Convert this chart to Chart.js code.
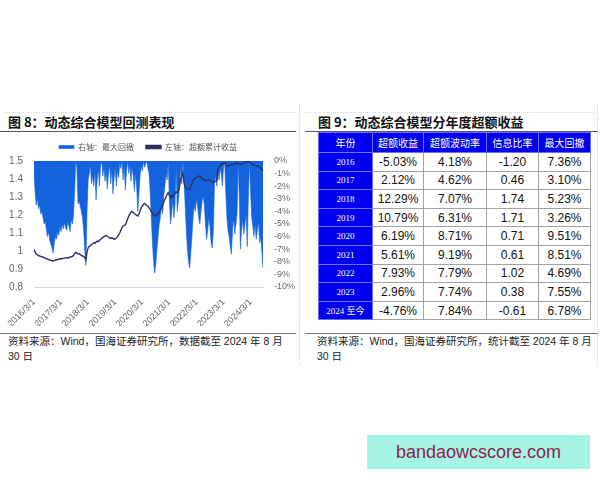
<!DOCTYPE html>
<html>
<head>
<meta charset="utf-8">
<script src="https://cdn.jsdelivr.net/npm/chart.js@4.4.1/dist/chart.umd.min.js"></script>
<style>
  body { margin: 0; width: 600px; height: 480px; background: #fff; position: relative; overflow: hidden;
         font-family: "Liberation Sans", "Noto Sans CJK SC", sans-serif; }
  .abs { position: absolute; }
  .title { font-family: "Noto Sans CJK SC", sans-serif; font-weight: bold; font-size: 13px; color: #111; top: 112px; line-height: 20px; }
  .rule { height: 1px; background: #555; }
  .dot-v { width: 0; border-left: 1px dotted #cfcfcf; }
  .dot-h { height: 0; border-top: 1px dotted #d8d8d8; }
  .foot { font-size: 10.5px; color: #222; line-height: 15px; white-space: nowrap;
          font-family: "Liberation Sans", "Noto Sans CJK SC", sans-serif; }
  table { border-collapse: collapse; table-layout: fixed; }
  td { padding: 0; text-align: center; border: 1px solid #a3a3a3; font-size: 12px; color: #111; height: 17.6px; }
  td.b { background: #0000ee; color: #fff; font-family: "Liberation Serif", "Noto Sans CJK SC", serif; font-size: 9px;
         border-color: #6d6df7; }
  tr.head td { height: 19px; font-family: "Noto Sans CJK SC", sans-serif; font-size: 10px; }
  .wm { background: #a6f4e5; color: #8c2350; font-size: 18px; text-align: center; line-height: 34px; }
</style>
</head>
<body>

<div class="abs dot-h" style="left:4px; top:112px; width:292px;"></div>
<div class="abs dot-h" style="left:306px; top:112px; width:290px;"></div>
<div class="abs dot-v" style="left:299px; top:104px; height:262px;"></div>
<div class="abs dot-v" style="left:597px; top:104px; height:262px;"></div>

<div class="abs title" style="left:8px;">图 8：动态综合模型回测表现</div>
<div class="abs rule" style="left:0; top:131px; width:296px;"></div>
<div class="abs title" style="left:318px;">图 9：动态综合模型分年度超额收益</div>
<div class="abs rule" style="left:305px; top:131px; width:293px;"></div>

<div class="abs" style="left:0; top:129px; width:296px; height:197px;">
  <canvas id="backtest"></canvas>
</div>

<table class="abs" id="yearTable" style="left:318px; top:132px; width:272px;">
  <colgroup><col style="width:54px"><col style="width:51px"><col style="width:63px"><col style="width:52px"><col style="width:52px"></colgroup>
  <tbody></tbody>
</table>

<div class="abs rule" style="left:0; top:333px; width:296px; background:#777;"></div>
<div class="abs rule" style="left:305px; top:333px; width:293px; background:#777;"></div>
<div class="abs foot" style="left:8px; top:334px;">资料来源：Wind，国海证券研究所，数据截至 2024 年 8 月<br>30 日</div>
<div class="abs foot" style="left:317px; top:334px;">资料来源：Wind，国海证券研究所，统计截至 2024 年 8 月<br>30 日</div>

<div class="abs wm" style="left:367px; top:435px; width:223px; height:34px;">bandaowcscore.com</div>

<script>
// x axis ticks shown on the chart
const tickLabels = ["2016/3/1", "2017/3/1", "2018/3/1", "2019/3/1", "2020/3/1",
                    "2021/3/1", "2022/3/1", "2023/3/1", "2024/3/1"];

// semi-monthly sample dates, 2016/3/1 .. 2024/8/30
const dates = [];
for (let i = 0; i < 204; i++) {
  const m = 2 + Math.floor(i / 2);
  const y = 2016 + Math.floor(m / 12);
  dates.push(y + "/" + (m % 12 + 1) + "/" + (i % 2 ? 16 : 1));
}
dates[203] = "2024/8/30";

// left axis: cumulative excess return (net value)
const excessNav = [
  1.008, 0.995, 0.982, 0.978, 0.975, 0.972, 0.970, 0.968, 0.967, 0.963,
  0.960, 0.957, 0.955, 0.952, 0.950, 0.948, 0.946, 0.944, 0.948, 0.950,
  0.953, 0.951, 0.955, 0.957, 0.956, 0.959, 0.958, 0.960, 0.962, 0.962,
  0.960, 0.964, 0.966, 0.968, 0.970, 0.975, 0.985, 0.992, 0.988, 0.984,
  0.985, 0.980, 0.976, 0.972, 0.970, 0.962, 0.952, 0.995, 1.018, 1.025,
  1.030, 1.036, 1.040, 1.045, 1.042, 1.050, 1.055, 1.052, 1.060, 1.064,
  1.070, 1.076, 1.080, 1.084, 1.086, 1.082, 1.078, 1.073, 1.070, 1.074,
  1.070, 1.066, 1.068, 1.072, 1.080, 1.090, 1.100, 1.115, 1.130, 1.138,
  1.142, 1.147, 1.160, 1.178, 1.194, 1.205, 1.215, 1.220, 1.214, 1.208,
  1.203, 1.198, 1.194, 1.205, 1.222, 1.240, 1.250, 1.258, 1.264, 1.258,
  1.252, 1.250, 1.240, 1.230, 1.220, 1.210, 1.200, 1.194, 1.198, 1.205,
  1.203, 1.215, 1.228, 1.240, 1.255, 1.270, 1.287, 1.300, 1.315, 1.324,
  1.310, 1.296, 1.305, 1.300, 1.314, 1.320, 1.328, 1.325, 1.333, 1.360,
  1.400, 1.417, 1.435, 1.380, 1.355, 1.350, 1.346, 1.344, 1.342, 1.360,
  1.375, 1.390, 1.398, 1.404, 1.407, 1.410, 1.414, 1.417, 1.410, 1.404,
  1.398, 1.395, 1.392, 1.390, 1.392, 1.395, 1.395, 1.388, 1.384, 1.380,
  1.385, 1.388, 1.390, 1.454, 1.465, 1.475, 1.480, 1.485, 1.488, 1.490,
  1.482, 1.476, 1.470, 1.474, 1.478, 1.482, 1.480, 1.480, 1.485, 1.488,
  1.490, 1.486, 1.482, 1.480, 1.484, 1.488, 1.490, 1.492, 1.495, 1.498,
  1.500, 1.495, 1.490, 1.486, 1.480, 1.478, 1.476, 1.474, 1.472, 1.470,
  1.465, 1.458, 1.452, 1.445
];

// right axis: max drawdown (%)
const drawdown = [
  -1.0, -2.5, -3.5, -3.0, -3.8, -3.5, -4.2, -4.0, -4.5, -5.0,
  -4.8, -5.5, -6.0, -5.6, -6.3, -6.6, -6.9, -7.3, -6.5, -6.0,
  -6.2, -5.6, -5.9, -5.2, -5.6, -5.0, -5.4, -4.9, -5.3, -5.5,
  -4.8, -5.2, -5.6, -4.6, -5.0, -4.3, -2.5, 0, -0.5, -3.4,
  -3.2, -3.6, -4.0, -4.5, -5.5, -7.0, -8.3, -4.0, -1.5, -1.0,
  -0.3, -1.8, -1.2, -2.0, -0.8, -3.1, -1.5, -0.6, -2.0, -0.4,
  0, -1.2, -0.5, -1.6, -0.8, -2.2, -1.0, -0.3, -1.8, -0.6,
  -2.6, -1.4, -0.5, -2.0, -0.7, -1.3, -0.2, -0.6, 0, -1.5,
  -0.4, -2.3, -0.8, 0, -1.0, -0.3, -1.6, -0.5, -1.2, -2.4,
  -1.0, -2.0, -4.0, -2.6, -1.2, -0.4, -0.8, 0, -0.5, -0.2,
  0, -0.6, -1.0, -2.5, -4.5, -6.5, -8.0, -8.9, -8.2, -7.0,
  -6.0, -5.0, -4.5, -3.6, -4.2, -2.8, -2.0, -1.0, -1.5, 0,
  -3.0, -5.0, -4.2, -3.0, -4.5, -3.5, -0.5, -4.0, -3.2, -2.0,
  -0.5, -1.8, 0, -1.5, -3.5, -5.5, -7.0, -8.0, -8.5, -7.2,
  -6.0, -4.5, -3.5, -4.0, -3.0, -3.6, -4.5, -5.0, -4.0, -3.2,
  -2.8, -3.5, -5.0, -6.2, -5.5, -4.5, -5.2, -6.5, -6.9, -5.5,
  -1.8, -1.2, -2.0, -0.8, -1.5, -0.6, -1.0, -2.0, -0.5, 0,
  -2.5, -4.5, -5.5, -6.0, -6.8, -7.4, -5.5, -4.5, -5.8, -5.0,
  -4.2, 0, -3.0, -7.0, -5.5, -4.6, -5.8, -5.0, -4.2, -6.8,
  -3.0, 0, -2.5, -4.5, -5.2, -6.0, -5.0, -6.2, -5.5, -4.8,
  -6.5, -6.0, -7.2, -8.5
];

// table 9
const tableHeader = ["年份", "超额收益", "超额波动率", "信息比率", "最大回撤"];
const years = ["2016", "2017", "2018", "2019", "2020", "2021", "2022", "2023", "2024 至今"];
const excessReturn = ["-5.03%", "2.12%", "12.29%", "10.79%", "6.19%", "5.61%", "7.93%", "2.96%", "-4.76%"];
const excessVol = ["4.18%", "4.62%", "7.07%", "6.31%", "8.71%", "9.19%", "7.79%", "7.74%", "7.84%"];
const infoRatio = ["-1.20", "0.46", "1.74", "1.71", "0.71", "0.61", "1.02", "0.38", "-0.61"];
const maxDd = ["7.36%", "3.10%", "5.23%", "3.26%", "9.51%", "8.51%", "4.69%", "7.55%", "6.78%"];

const tbody = document.querySelector("#yearTable tbody");
let html = '<tr class="head">' + tableHeader.map(h => '<td class="b">' + h + '</td>').join("") + '</tr>';
years.forEach((y, i) => {
  html += '<tr><td class="b">' + y + '</td><td>' + excessReturn[i] + '</td><td>' + excessVol[i] +
          '</td><td>' + infoRatio[i] + '</td><td>' + maxDd[i] + '</td></tr>';
});
tbody.innerHTML = html;

const axisFont = { family: "Liberation Sans", size: 9 };

new Chart(document.getElementById("backtest"), {
  type: "line",
  data: {
    labels: dates,
    datasets: [
      {
        label: "左轴：超额累计收益",
        data: excessNav,
        yAxisID: "y",
        borderColor: "#2c2f5e",
        backgroundColor: "#2c2f5e",
        borderWidth: 1.4,
        pointRadius: 0,
        tension: 0
      },
      {
        label: "右轴：最大回撤",
        data: drawdown,
        yAxisID: "y1",
        borderColor: "#1463dc",
        backgroundColor: "#1463dc",
        borderWidth: 0.6,
        pointRadius: 0,
        tension: 0,
        fill: "end"
      }
    ]
  },
  options: {
    responsive: true,
    maintainAspectRatio: false,
    animation: false,
    layout: { padding: { left: 0, right: 0, top: 2, bottom: 0 } },
    plugins: {
      tooltip: { enabled: false },
      legend: {
        reverse: true,
        labels: {
          boxWidth: 15,
          boxHeight: 3,
          padding: 12,
          color: "#555",
          font: { family: "Noto Sans CJK SC", size: 8 }
        }
      }
    },
    scales: {
      x: {
        grid: { display: false },
        border: { display: true, color: "#d6d6d6" },
        afterFit: s => { s.height = 39; },
        ticks: {
          autoSkip: false,
          minRotation: 45,
          maxRotation: 45,
          color: "#666",
          font: axisFont,
          padding: 2,
          callback: function (v) {
            const lab = this.getLabelForValue(v);
            return tickLabels.includes(lab) ? lab : "";
          }
        }
      },
      y: {
        position: "left",
        min: 0.8,
        max: 1.5,
        grid: { display: false },
        border: { display: false },
        afterFit: s => { s.width = 34; },
        ticks: {
          stepSize: 0.1,
          autoSkip: false,
          color: "#666",
          font: { family: "Liberation Sans", size: 10 },
          callback: v => String(parseFloat(v.toFixed(1)))
        }
      },
      y1: {
        position: "right",
        min: -10,
        max: 0,
        grid: { display: false },
        border: { display: false },
        afterFit: s => { s.width = 33; },
        ticks: {
          stepSize: 1,
          autoSkip: false,
          color: "#666",
          font: axisFont,
          callback: v => Math.round(v) + "%"
        }
      }
    }
  }
});
</script>
</body>
</html>
